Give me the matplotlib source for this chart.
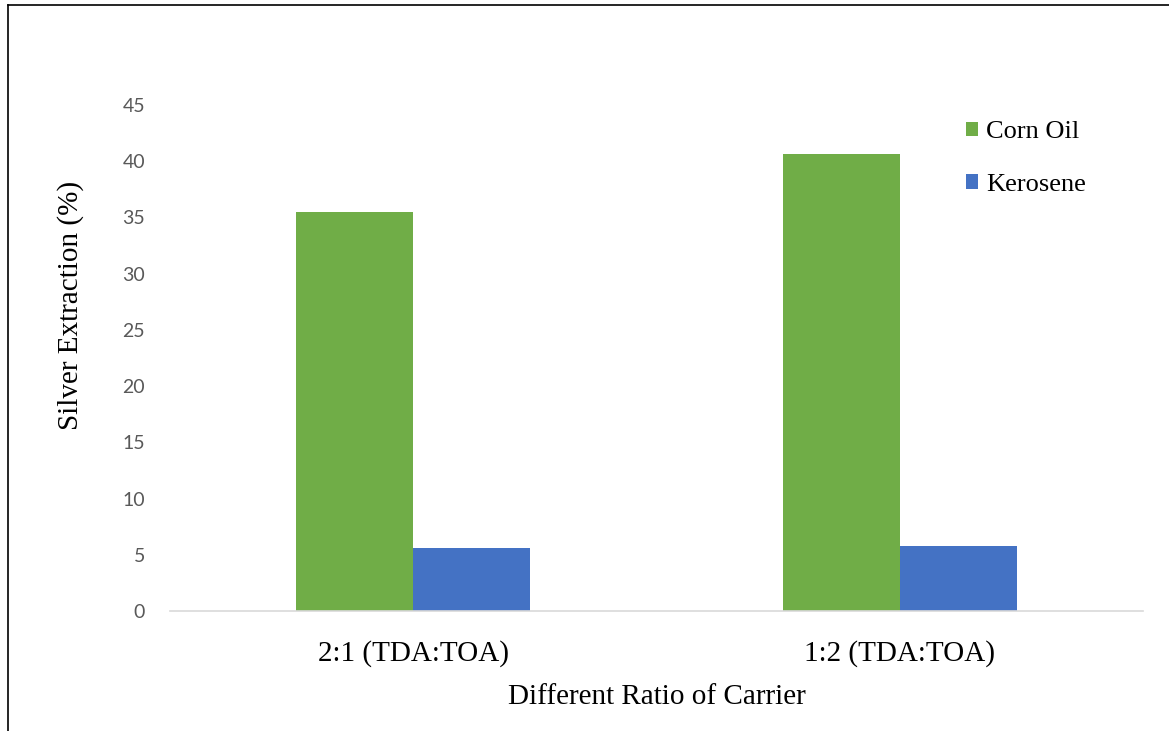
import matplotlib
matplotlib.use("Agg")
import matplotlib.pyplot as plt
from matplotlib.lines import Line2D
import numpy as np

categories = ["2:1 (TDA:TOA)", "1:2 (TDA:TOA)"]
corn_oil = [35.5, 40.6]
kerosene = [5.6, 5.8]
series_names = ["Corn Oil", "Kerosene"]
yticks = [0, 5, 10, 15, 20, 25, 30, 35, 40, 45]

GREEN = "#70AD47"
BLUE = "#4472C4"
SERIF = ["Liberation Serif", "DejaVu Serif"]

fig = plt.figure(figsize=(11.69, 7.31), dpi=100)
ax = fig.add_axes([170 / 1169, 1 - 611 / 731, (1143 - 170) / 1169, (611 - 105) / 731])

x = np.arange(len(categories))
w = 0.24
b1 = ax.bar(x - w / 2, corn_oil, width=w, color=GREEN, label=series_names[0])
b2 = ax.bar(x + w / 2, kerosene, width=w, color=BLUE, label=series_names[1])

ax.set_xlim(-0.5, len(categories) - 0.5)
ax.set_ylim(0, 45)
ax.set_yticks(yticks)
ax.set_xticks(x)
ax.set_xticklabels(categories, fontsize=21, family=SERIF, color="black")
for lab in ax.get_yticklabels():
    lab.set_family(["Lato", "DejaVu Sans"])
    lab.set_fontsize(14)
    lab.set_color("#595959")

for s in ["top", "right", "left"]:
    ax.spines[s].set_visible(False)
ax.spines["bottom"].set_color("#d9d9d9")
ax.spines["bottom"].set_linewidth(1.2)
ax.tick_params(axis="both", length=0)
ax.tick_params(axis="y", pad=18)
ax.tick_params(axis="x", pad=21)

ax.set_xlabel("Different Ratio of Carrier", fontsize=21, family=SERIF, labelpad=12)
fig.text(71 / 1169, 1 - 305 / 731, "Silver Extraction (%)", rotation=90,
         ha="center", va="center", fontsize=21, family=SERIF)

leg = ax.legend(handles=[b1, b2], loc="upper left",
                bbox_to_anchor=(966 / 1169, 1 - 121 / 731),
                bbox_transform=fig.transFigure, frameon=False,
                prop={"family": SERIF, "size": 19},
                handlelength=0.45, handleheight=0.45, handletextpad=0.3,
                labelspacing=1.17, borderpad=0, borderaxespad=0)

# frame edges
fig.add_artist(Line2D([8 / 1169, 8 / 1169], [0, 1 - 5 / 731],
                      transform=fig.transFigure, color="black", lw=1.2))
fig.add_artist(Line2D([8 / 1169, 1], [1 - 5 / 731, 1 - 5 / 731],
                      transform=fig.transFigure, color="black", lw=1.2))

fig.savefig("out.png", dpi=100)
